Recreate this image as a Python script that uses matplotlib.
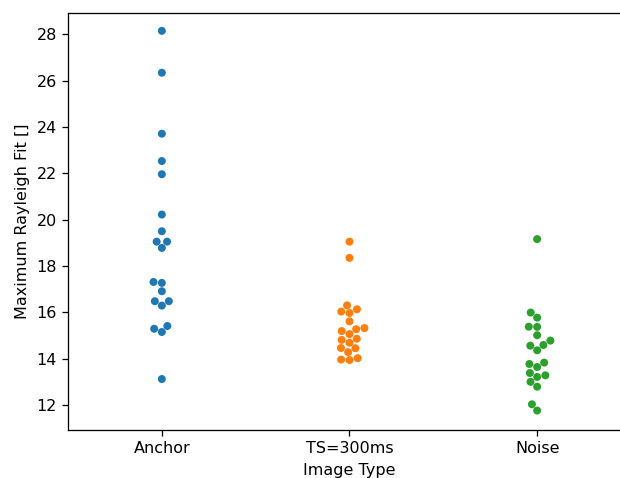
import matplotlib
matplotlib.use("Agg")
import matplotlib.pyplot as plt
import seaborn as sns
import pandas as pd

categories = ["Anchor", "TS=300ms", "Noise"]
anchor = [28.15, 26.34, 23.71, 22.53, 21.96, 20.22, 19.50, 19.05, 19.05, 18.78,
          17.31, 17.27, 16.91, 16.48, 16.48, 16.29, 15.41, 15.29, 15.15, 13.12]
ts300 = [19.05, 18.35, 16.30, 16.13, 16.03, 15.97, 15.61, 15.32, 15.27, 15.19,
         15.06, 14.86, 14.81, 14.69, 14.46, 14.45, 14.28, 14.02, 13.96, 13.94]
noise = [19.16, 15.99, 15.77, 15.38, 15.37, 15.01, 14.78, 14.56, 14.59, 14.36,
         13.77, 13.64, 13.83, 13.38, 13.21, 13.28, 13.00, 12.79, 12.03, 11.76]

df = pd.DataFrame({
    "Image Type": [categories[0]] * len(anchor) + [categories[1]] * len(ts300) + [categories[2]] * len(noise),
    "Maximum Rayleigh Fit []": anchor + ts300 + noise,
})

DPI = 115
fig = plt.figure(figsize=(620 / DPI, 478 / DPI), dpi=DPI)
ax = fig.add_axes([0.1097, 0.1004, 0.908, 0.8734])
sns.swarmplot(data=df, x="Image Type", y="Maximum Rayleigh Fit []", hue="Image Type",
              order=categories, palette=["#1f77b4", "#ff7f0e", "#2ca02c"], size=5, ax=ax, legend=False)
ax.set_xlim(-0.5, 2.5)
ax.set_ylim(10.92, 28.94)
ax.set_yticks([12, 14, 16, 18, 20, 22, 24, 26, 28])
ax.spines["right"].set_visible(False)
fig.savefig("out.png", dpi=DPI)
